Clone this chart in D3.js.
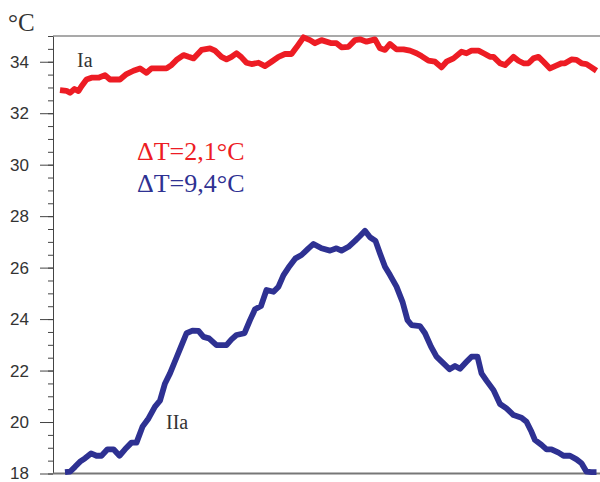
<!DOCTYPE html>
<meta charset="utf-8">

<!-- Load d3.js -->
<script src="https://d3js.org/d3.v7.min.js"></script>

<body style="margin:0;background:#fff">
	<!-- Create a div where the graph will take place -->
	<div id="my_dataviz"></div>
</body>

<style>
.tick text {
  font-family: "Liberation Sans", Arial, sans-serif;
  font-size: 17px;
  fill: #333;
}
.lbl {
  font-family: "Liberation Serif", "Times New Roman", serif;
}
</style>

<script>

	// curve Ia (upper, red): time / temperature
	var timeIa = [1.4, 2.7, 3.4, 4.3, 5.1, 5.7, 6.7, 7.7, 9.1, 10.4, 11.4, 13.4, 14.7, 16.1, 17.4, 18.7, 19.7, 22.7, 23.7, 24.7,
		26.1, 27.1, 28.1, 29.7, 31.4, 32.4, 33.7, 34.7, 35.7, 36.7, 37.7, 38.7, 39.7, 41.1, 42.4, 43.7, 45.1, 46.4, 47.7, 48.7,
		50.1, 51.4, 52.4, 53.7, 55.7, 56.7, 57.7, 59.1, 60.4, 61.4, 62.7, 64.4, 65.4, 66.4, 67.4, 68.7, 70.1, 71.4, 72.7, 73.7,
		75.1, 76.4, 77.7, 78.7, 80.1, 81.7, 82.7, 83.7, 85.1, 86.4, 87.4, 88.1, 89.4, 90.4, 92.1, 93.1, 94.1, 95.1, 96.1, 97.1,
		98.1, 99.4, 100.4, 101.7, 102.4, 103.7, 104.7, 105.7, 106.7, 107.7, 108.7];
	var tempIa = [32.90, 32.87, 32.79, 32.94, 32.86, 33.05, 33.31, 33.38, 33.38, 33.48, 33.31, 33.31, 33.52, 33.65, 33.74, 33.57, 33.74, 33.74, 33.87, 34.07,
		34.26, 34.19, 34.13, 34.46, 34.52, 34.43, 34.19, 34.09, 34.19, 34.33, 34.17, 33.96, 33.91, 33.96, 33.83, 34.00, 34.19, 34.30, 34.30, 34.56,
		34.95, 34.84, 34.72, 34.84, 34.72, 34.72, 34.56, 34.58, 34.84, 34.87, 34.78, 34.87, 34.52, 34.46, 34.69, 34.48, 34.48, 34.43, 34.33, 34.22,
		34.04, 34.00, 33.78, 34.00, 34.13, 34.39, 34.33, 34.43, 34.43, 34.30, 34.19, 34.19, 33.94, 33.87, 34.19, 34.04, 33.94, 33.94, 34.13, 34.19,
		34.00, 33.74, 33.83, 33.94, 33.94, 34.09, 34.07, 33.94, 33.91, 33.78, 33.65];

	// curve IIa (lower, blue): time / temperature
	var timeIIa = [2.4, 3.4, 4.4, 5.4, 6.4, 7.6, 8.7, 9.7, 10.9, 12.1, 13.3, 14.4, 15.7, 16.7, 17.9, 19.1, 20.4, 21.4, 22.4, 23.4,
		24.5, 25.6, 26.7, 27.9, 29.1, 30.1, 31.2, 32.7, 34.7, 35.7, 36.7, 38.3, 39.4, 40.4, 41.6, 42.7, 44.1, 45.1, 46.1, 47.1,
		48.5, 49.7, 51.1, 52.1, 53.7, 55.4, 56.7, 57.7, 59.1, 60.4, 61.4, 62.4, 63.4, 64.5, 65.4, 66.4, 67.4, 68.7, 69.9, 70.9,
		71.7, 73.4, 74.4, 75.6, 76.7, 78.1, 79.3, 80.4, 81.4, 82.7, 83.7, 84.9, 85.7, 86.7, 88.1, 89.4, 90.7, 92.1, 93.7, 94.7,
		95.7, 96.4, 97.7, 98.7, 99.7, 101.1, 102.1, 103.4, 104.7, 105.7, 106.7, 107.7, 108.7];
	var tempIIa = [18.05, 18.07, 18.26, 18.46, 18.59, 18.78, 18.69, 18.69, 18.94, 18.94, 18.69, 18.94, 19.20, 19.20, 19.82, 20.14, 20.60, 20.83, 21.50, 21.89,
		22.41, 22.93, 23.45, 23.55, 23.54, 23.31, 23.25, 22.99, 22.99, 23.21, 23.38, 23.45, 23.96, 24.38, 24.51, 25.13, 25.06, 25.26, 25.71, 26.00,
		26.36, 26.49, 26.75, 26.92, 26.75, 26.66, 26.75, 26.66, 26.81, 27.04, 27.23, 27.43, 27.18, 27.04, 26.55, 26.03, 25.71, 25.26, 24.67, 23.96,
		23.77, 23.73, 23.45, 22.93, 22.54, 22.28, 22.05, 22.18, 22.07, 22.34, 22.54, 22.54, 21.89, 21.61, 21.24, 20.70, 20.53, 20.27, 20.17, 20.01,
		19.62, 19.30, 19.11, 18.94, 18.94, 18.81, 18.69, 18.69, 18.55, 18.40, 18.07, 18.05, 18.05];

	var majorTicks = [18, 20, 22, 24, 26, 28, 30, 32, 34];
	var minorTicks = d3.range(18, 35.01, 0.5);

	var unitLabel = "°C";
	var curveLabels = ["Ia", "IIa"];
	var deltaLabels = ["ΔT=2,1°C", "ΔT=9,4°C"];

	var red = "#ed1c24",
	    blue = "#2e3192";

	// set the dimensions and margins of the graph
	var W = 600, H = 482;
	var margin = {top: 36, right: 0, bottom: 8.5, left: 53};

	var svg = d3.select("#my_dataviz")
		.append("svg")
		.attr("width", W)
		.attr("height", H);

	var x = d3.scaleLinear()
		.domain([0, 109.4])
		.range([margin.left, W - margin.right]);

	var y = d3.scaleLinear()
		.domain([18, 35])
		.range([H - margin.bottom, margin.top]);

	// minor ticks (no labels)
	svg.append("g")
		.attr("transform", "translate(" + margin.left + ",0)")
		.call(d3.axisLeft(y).tickValues(minorTicks).tickSize(5).tickFormat(""))
		.call(function(g) { g.selectAll("line").attr("stroke", "#444"); g.select(".domain").remove(); });

	// major ticks + labels
	svg.append("g")
		.attr("transform", "translate(" + margin.left + ",0)")
		.call(d3.axisLeft(y).tickValues(majorTicks).tickSize(13).tickPadding(11).tickSizeOuter(0))
		.call(function(g) {
			g.selectAll("line").attr("stroke", "#444");
			g.select(".domain").attr("stroke", "#444");
			g.selectAll("text").attr("font-family", null).attr("font-size", null);
		});

	// top and bottom frame lines
	svg.append("line")
		.attr("x1", x(0)).attr("x2", x(109.4))
		.attr("y1", y(35)).attr("y2", y(35))
		.attr("stroke", "#555").attr("stroke-width", 1.2);
	svg.append("line")
		.attr("x1", x(0)).attr("x2", x(109.4))
		.attr("y1", y(18)).attr("y2", y(18))
		.attr("stroke", "#777").attr("stroke-width", 2);

	var line = d3.line()
		.x(function(d) { return x(d[0]); })
		.y(function(d) { return y(d[1]); });

	function drawCurve(t, v, color) {
		svg.append("path")
			.datum(d3.zip(t, v))
			.attr("fill", "none")
			.attr("stroke", color)
			.attr("stroke-width", 5.8)
			.attr("stroke-linejoin", "round")
			.attr("d", line);
	}

	drawCurve(timeIa, tempIa, red);
	drawCurve(timeIIa, tempIIa, blue);

	// labels
	svg.append("text").attr("class", "lbl")
		.attr("x", 8).attr("y", 31)
		.attr("font-size", 25).attr("fill", "#333")
		.text(unitLabel);

	svg.append("text").attr("class", "lbl")
		.attr("x", 77).attr("y", 67)
		.attr("font-size", 20).attr("fill", "#333")
		.text(curveLabels[0]);

	svg.append("text").attr("class", "lbl")
		.attr("x", 166).attr("y", 429)
		.attr("font-size", 20).attr("fill", "#333")
		.text(curveLabels[1]);

	svg.append("text").attr("class", "lbl")
		.attr("x", 137).attr("y", 160)
		.attr("font-size", 26).attr("fill", red)
		.text(deltaLabels[0]);

	svg.append("text").attr("class", "lbl")
		.attr("x", 137).attr("y", 192)
		.attr("font-size", 26).attr("fill", blue)
		.text(deltaLabels[1]);

</script>
